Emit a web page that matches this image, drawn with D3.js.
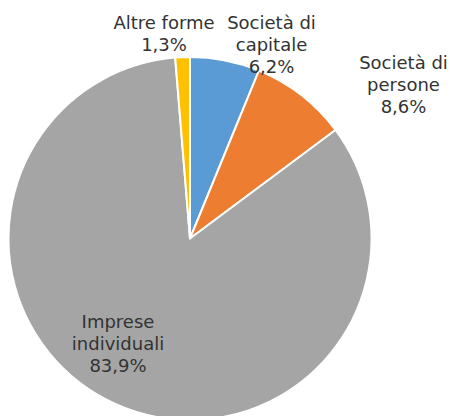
<!DOCTYPE html>
<html>
<head>
<meta charset="utf-8">
<script src="https://cdn.jsdelivr.net/npm/d3@7"></script>
<style>
  html, body { margin: 0; padding: 0; background: #fff; overflow: hidden; }
  svg { display: block; }
</style>
</head>
<body>
<svg id="chart" width="454" height="416"></svg>
<script>
// Data
const categories = ["Società di capitale", "Società di persone", "Imprese individuali", "Altre forme"];
const values = [6.2, 8.6, 83.9, 1.3];
const labelLines = [["Società di", "capitale", "6,2%"], ["Società di", "persone", "8,6%"], ["Imprese", "individuali", "83,9%"], ["Altre forme", "1,3%"]];
const colors = ["#5B9BD5", "#ED7D31", "#A5A5A5", "#FFC000"];

// Layout
const W = 454, H = 416;
const cx = 190, cy = 238.5, R = 181.5;
const lineH = 22;
// label anchor (x center, first baseline) per slice
const labelPos = [[271.5, 29], [403.5, 69], [118, 328], [164, 29]];

const svg = d3.select("#chart");
const g = svg.append("g").attr("transform", `translate(${cx},${cy})`);

const pie = d3.pie().sort(null).value(d => d.v);
const arc = d3.arc().innerRadius(0).outerRadius(R);
const data = categories.map((c, i) => ({ c, v: values[i], i }));

g.selectAll("path")
  .data(pie(data))
  .join("path")
  .attr("d", arc)
  .attr("fill", d => colors[d.data.i])
  .attr("stroke", "#fff")
  .attr("stroke-width", 2)
  .attr("stroke-linejoin", "round");

const labels = svg.append("g")
  .attr("font-family", "'DejaVu Sans', Verdana, sans-serif")
  .attr("font-size", 18)
  .attr("fill", "#333")
  .attr("text-anchor", "middle");

data.forEach((d, i) => {
  const t = labels.append("text")
    .attr("x", labelPos[i][0])
    .attr("y", labelPos[i][1]);
  labelLines[i].forEach((ln, k) => {
    t.append("tspan")
      .attr("x", labelPos[i][0])
      .attr("y", labelPos[i][1] + k * lineH)
      .text(ln);
  });
});
</script>
</body>
</html>
